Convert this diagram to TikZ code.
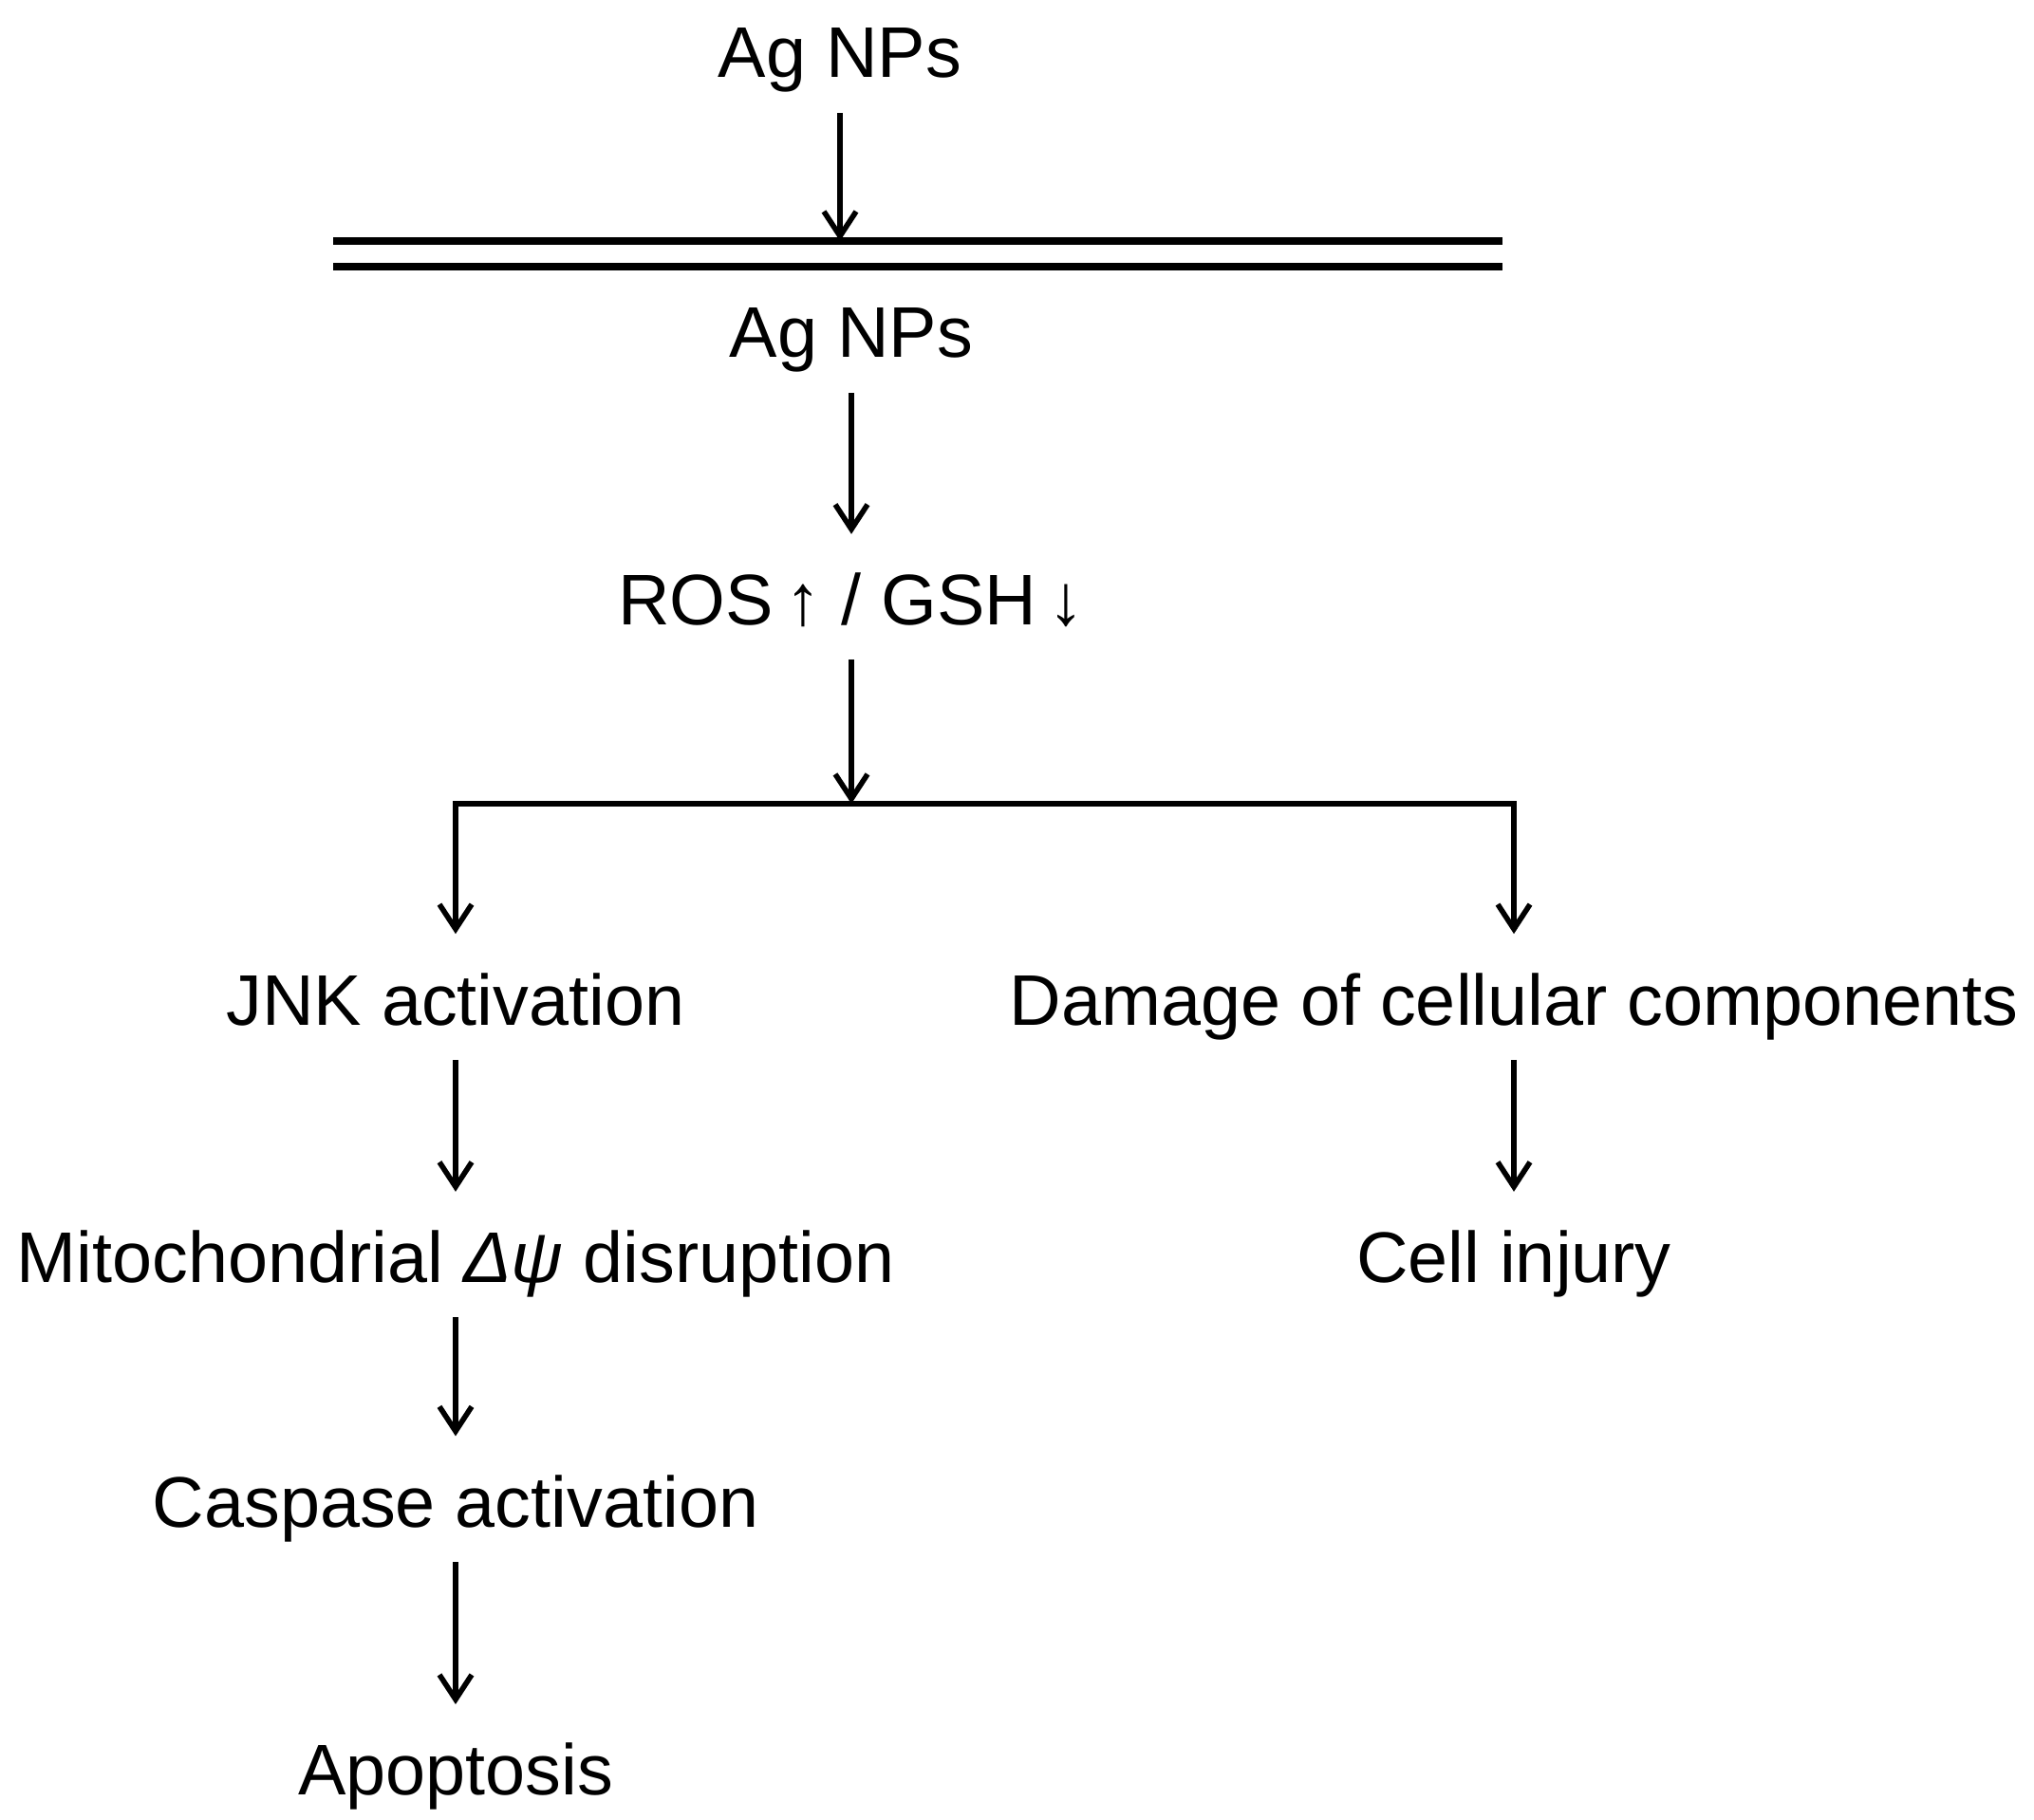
\documentclass[tikz,border=0pt]{standalone}
\usepackage{fontspec}
\setmainfont{Liberation Sans}
\usetikzlibrary{positioning, arrows.meta}

\begin{document}
\begin{tikzpicture} [ line width=1.6pt
                    , font=\fontsize{21.5}{26}\selectfont
                    , lbl/.style={text height=0.83cm, text depth=0.24cm, inner sep=0.1cm}
                    , arr/.style={-{Straight Barb[length=0.26cm, width=0.34cm]}}
                    , membrane/.style={line width=2pt}
                    ]

  \useasboundingbox (0,0) rectangle (21.43,-19.18);

  % --- Outside / membrane ----------------------------------------------------
  \node [ lbl
        , anchor=base
        ]
        at (8.85,-0.82) (AgOut) {Ag NPs};

  \coordinate (MemL) at (3.51,-2.54);
  \coordinate (MemR) at (15.83,-2.54);

  \draw [membrane] (MemL) -- (MemR);
  \draw [membrane] ([yshift=-0.27cm]MemL) -- ([yshift=-0.27cm]MemR);
  % ---------------------------------------------------------------------------

  % --- Inside the cell -------------------------------------------------------
  \node [ lbl
        , anchor=base
        ]
        at (8.97,-3.77) (AgIn) {Ag NPs};

  \node [ lbl
        , below=1.49cm of AgIn
        ]
        (ROS) {ROS\,↑ / GSH\,↓};

  \coordinate (Fork) at (8.97,-8.47);
  % ---------------------------------------------------------------------------

  % --- Left branch -----------------------------------------------------------
  \node [ lbl
        , anchor=base
        ]
        at (4.80,-10.80) (JNK) {JNK activation};

  \node [ lbl
        , below=1.39cm of JNK
        ]
        (Mito) {Mitochondrial \textit{Δψ} disruption};

  \node [ lbl
        , below=1.25cm of Mito
        ]
        (Casp) {Caspase activation};

  \node [ lbl
        , below=1.50cm of Casp
        ]
        (Apop) {Apoptosis};
  % ---------------------------------------------------------------------------

  % --- Right branch ----------------------------------------------------------
  \node [ lbl
        , anchor=base
        ]
        at (15.95,-10.80) (Damage) {Damage of cellular components};

  \node [ lbl
        , below=1.39cm of Damage
        ]
        (Injury) {Cell injury};
  % ---------------------------------------------------------------------------

  % --- Arrows ----------------------------------------------------------------
  \draw [arr] (AgOut) -- (AgOut |- MemL);
  \draw [arr] (AgIn) -- (ROS);
  \draw [arr] (ROS) -- (Fork);
  \draw [arr] (Fork) -| (JNK.north);
  \draw [arr] (Fork) -| (Damage.north);
  \draw [arr] (JNK) -- (Mito);
  \draw [arr] (Mito) -- (Casp);
  \draw [arr] (Casp) -- (Apop);
  \draw [arr] (Damage) -- (Injury);
  % ---------------------------------------------------------------------------
\end{tikzpicture}
\end{document}
